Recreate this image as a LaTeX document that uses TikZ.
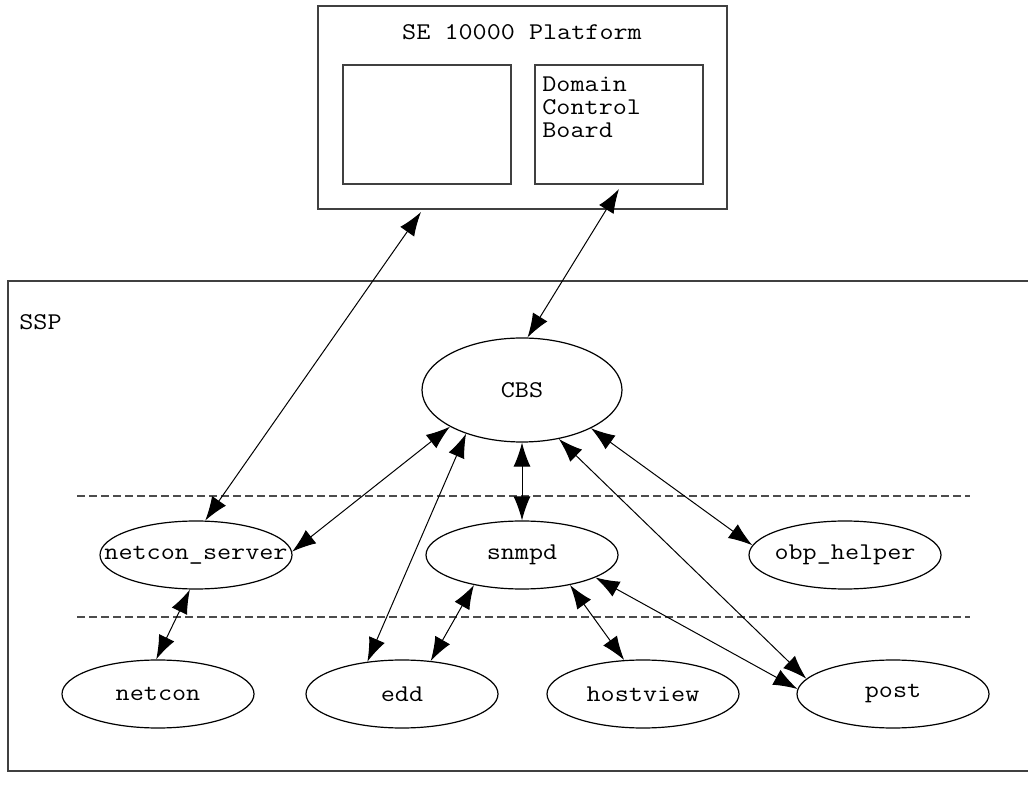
\documentclass[tikz,border=0pt]{standalone}
\usepackage{fontspec}
\setmonofont[FakeStretch=1.14]{Latin Modern Mono}
\usetikzlibrary{shapes.geometric,arrows.meta}

\tikzset{
  box/.style={draw=black!75, line width=1pt},
  proc/.style={ellipse, draw, line width=0.6pt, minimum width=96pt, minimum height=34pt, inner sep=0pt},
  link/.style={{Latex[length=12pt,width=8.5pt]}-{Latex[length=12pt,width=8.5pt]}, line width=0.5pt},
  layer/.style={draw=black!70, dash pattern=on 4pt off 2pt, line width=0.6pt}
}

\begin{document}
\begin{tikzpicture}[x=0.5pt,y=-0.5pt,font=\ttfamily\fontsize{12}{11.5}\selectfont]
        \useasboundingbox (0,0) rectangle (1028,785);
        \node[box, minimum width=204.5pt, minimum height=101.5pt] (platform) at (522.5,107.5) {};
        \node[anchor=base] (ptitle) at (522,40) {SE 10000 Platform};
        \node[box, minimum width=84pt, minimum height=59.5pt] (board) at (427,124.5) {};
        \node[box, minimum width=84pt, minimum height=59.5pt] (dcb) at (619,124.5) {};
        \node[anchor=north west, align=left, inner sep=0pt] (dcbtext) at (542,76) {Domain\\Control\\Board};

        \draw[box] (8,281) rectangle (1040,771);
        \node[anchor=west, inner sep=0pt] (ssp) at (19,322) {SSP};
        \draw[layer] (77,496) -- (970,496);
        \draw[layer] (77,617) -- (970,617);

        \node[proc, minimum width=100pt, minimum height=52pt, label=center:CBS] (cbs) at (522,390) {};
        \node[proc, label=center:netcon\_server] (ns) at (196,555) {};
        \node[proc, label=center:snmpd] (snmpd) at (522,555) {};
        \node[proc, label=center:obp\_helper] (obp) at (845,555) {};
        \node[proc, label=center:netcon] (netcon) at (158,694) {};
        \node[proc, label=center:edd] (edd) at (402,694) {};
        \node[proc, label=center:hostview] (hostview) at (643,694) {};
        \node[proc, label=center:post] (post) at (893,694) {};

        \draw[link] ([xshift=-50.75pt,yshift=-1pt]platform.south) -- (ns.75);
        \draw[link] ([yshift=-2pt]dcb.south) -- (cbs.84);
        \draw[link] (cbs.207) -- (ns.2);
        \draw[link] (cbs.218) -- (edd.137);
        \draw[link] (cbs.270) -- (snmpd.90);
        \draw[link] (cbs.331) -- (obp.174);
        \draw[link] (cbs.307) -- (post.170);
        \draw[link] (snmpd.343) -- (post.177);
        \draw[link] (snmpd.328) -- (hostview.119);
        \draw[link] (snmpd.212) -- (edd.49);
        \draw[link] (ns.260) -- (netcon.93);
\end{tikzpicture}
\end{document}
